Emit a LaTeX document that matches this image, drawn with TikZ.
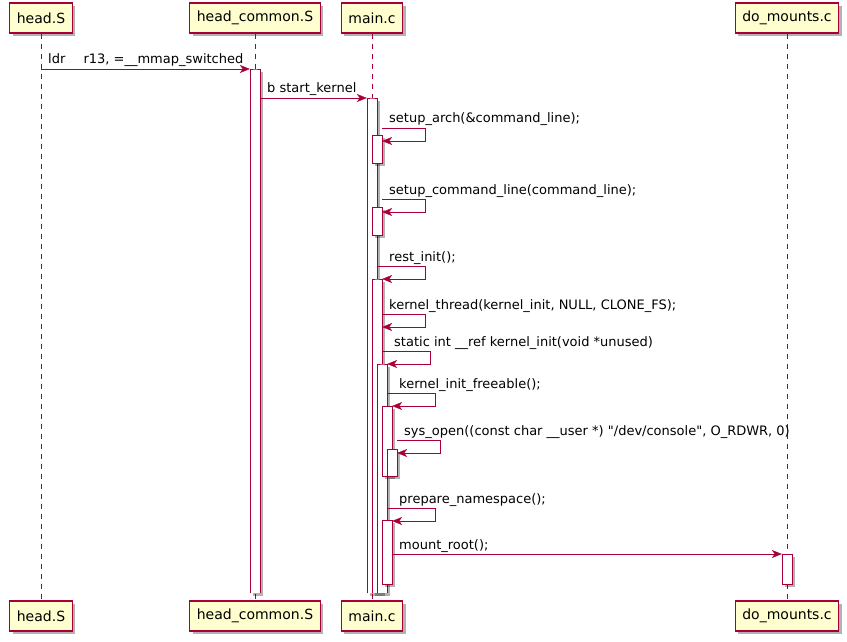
\documentclass[tikz,border=0pt]{standalone}
\usepackage{fontspec}
\setmainfont{DejaVu Sans}
\newfontfamily\umlfont{DejaVu Sans} % plain quotes, no TeX mapping
\usetikzlibrary{arrows.meta, shadows}
\definecolor{umlred}{HTML}{A80036}
\definecolor{umlfill}{HTML}{FEFECE}
\tikzset{
	x=1pt, y=-1pt, % pixel grid, y runs downwards
	boxshadow/.style={drop shadow={shadow xshift=3pt, shadow yshift=-3pt, fill=black, opacity=0.3}},
	participant/.style={draw=umlred, fill=umlfill, line width=1.2pt, minimum height=30pt, inner xsep=7pt, font=\umlfont\fontsize{14}{16}\selectfont, boxshadow},
	lifeline/.style={draw=umlred, dash pattern=on 5pt off 5pt},
	activation/.style={draw=umlred, fill=white, minimum width=10pt, inner sep=0pt, anchor=north, boxshadow},
	openact/.style={activation, draw=none}, % runs off the bottom, no bottom edge
	msg/.style={draw=umlred, -{Stealth[length=10pt, width=8pt, inset=3pt]}},
	msglabel/.style={anchor=base west, inner sep=0pt, font=\umlfont\fontsize{13}{15}\selectfont},
}
% self message: name, start anchor, y, far x, end anchor, text
\newcommand{\selfcall}[6]{%
	\draw[msg] (#2 |- 0,#3) -| (#4,{#3+13}) -- (#5 |- 0,{#3+13});
	\node[msglabel] (#1) at ({#4-36},{#3-5}) {#6};}
% outline of an open activation
\newcommand{\openside}[1]{\draw[umlred] (#1.south west) |- (#1.north) -| (#1.south east);}

\begin{document}
\begin{tikzpicture}
	\useasboundingbox (0,0) rectangle (847,642);
	% participants
	\node[participant] (hS1) at (41,18) {head.S};
	\node[participant] (hc1) at (255,18) {head\_common.S};
	\node[participant] (mc1) at (372,18) {main.c};
	\node[participant] (dm1) at (787,18) {do\_mounts.c};
	\node[participant] (hS2) at (41,616) {head.S};
	\node[participant] (hc2) at (255,616) {head\_common.S};
	\node[participant] (mc2) at (372,616) {main.c};
	\node[participant] (dm2) at (787,616) {do\_mounts.c};
	\foreach \p in {hS, hc, mc, dm}
		\draw[lifeline] (\p1.south) -- (\p2.north);
	% activations
	\node[openact, minimum height=524pt] (hc) at (255,69) {}; \openside{hc}
	\node[openact, minimum height=495pt] (m1) at (372,98) {}; \openside{m1}
	\node[activation, minimum height=28pt] (m2) at (377,135) {};
	\node[activation, minimum height=28pt] (m3) at (377,207) {};
	\node[openact, minimum height=314pt] (m4) at (377,279) {}; \openside{m4}
	\node[openact, minimum height=229pt] (m5) at (382,364) {}; \openside{m5}
	\node[activation, minimum height=70pt] (m6) at (387,406) {};
	\node[activation, minimum height=27pt] (m7) at (392,449) {};
	\node[activation, minimum height=64pt] (m8) at (387,520) {};
	\node[activation, minimum height=30pt] (dm) at (787,554) {};
	% messages
	\draw[msg] (hS1 |- hc.north) -- (hc.north west);
	\node[msglabel] (l1) at (48,64) {ldr\hspace{14pt} r13, =\_\_mmap\_switched};
	\draw[msg] (hc.north east |- m1.north) -- (m1.north west);
	\node[msglabel] (l2) at (267,93) {b start\_kernel};
	\selfcall{l3}{m2.east}{128}{425}{m2.east}{setup\_arch(\&command\_line);}
	\selfcall{l4}{m3.east}{199}{425}{m3.east}{setup\_command\_line(command\_line);}
	\selfcall{l5}{m1.east}{266}{425}{m4.east}{rest\_init();}
	\selfcall{l6}{m4.east}{314}{425}{m4.east}{kernel\_thread(kernel\_init, NULL, CLONE\_FS);}
	\selfcall{l7}{m4.east}{351}{430}{m5.east}{static int \_\_ref kernel\_init(void *unused)}
	\selfcall{l8}{m5.east}{393}{435}{m6.east}{kernel\_init\_freeable();}
	\selfcall{l9}{m7.east}{440}{440}{m7.east}{sys\_open((const char \_\_user *) "/dev/console", O\_RDWR, 0)}
	\selfcall{l10}{m5.east}{508}{435}{m8.east}{prepare\_namespace();}
	\draw[msg] (m8.east |- dm.north) -- (dm.north west);
	\node[msglabel] (l11) at (399,549) {mount\_root();};
\end{tikzpicture}
\end{document}
